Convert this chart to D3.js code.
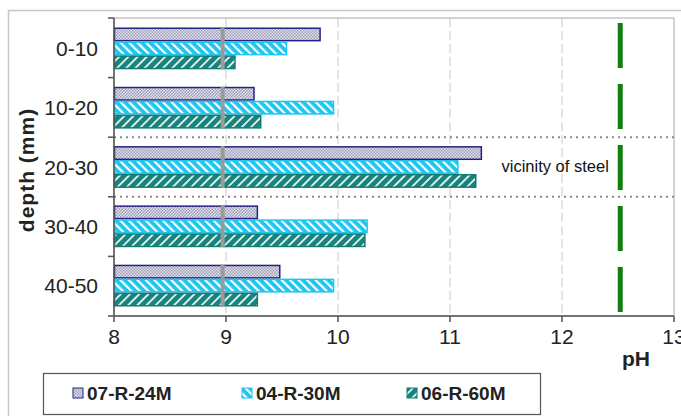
<!DOCTYPE html>
<html><head><meta charset="utf-8">
<script src="https://cdn.jsdelivr.net/npm/d3@7"></script>
<style>body{margin:0;background:#fff;}svg{display:block;font-family:"Liberation Sans",Arial,sans-serif;}</style>
</head><body>
<svg id="c" width="681" height="416"></svg>
<script>
const depths = ["0-10","10-20","20-30","30-40","40-50"];
const seriesNames = ["07-R-24M","04-R-30M","06-R-60M"];
const s07 = [9.84, 9.25, 11.28, 9.28, 9.48];
const s04 = [9.54, 9.96, 11.07, 10.26, 9.96];
const s06 = [9.08, 9.31, 11.23, 10.24, 9.28];
const xTicks = [8, 9, 10, 11, 12, 13];
const refGrey = 8.97;
const refGreen = 12.52;
const annotation = "vicinity of steel";

const svg = d3.select("#c");
const W = 681, H = 416;
const x = d3.scaleLinear().domain([8, 13]).range([114, 674]);
const y = d3.scaleBand().domain(depths).range([18, 316]).paddingInner(0.295).paddingOuter(0.16);
const yb = d3.scaleBand().domain(d3.range(depths.length)).range([18, 316]);
const ys = d3.scaleBand().domain(seriesNames).range([0, y.bandwidth()]);

// patterns
const defs = svg.append("defs");
const pc = defs.append("pattern").attr("id","p07").attr("patternUnits","userSpaceOnUse").attr("width",3).attr("height",3);
pc.append("rect").attr("width",3).attr("height",3).attr("fill","#e4e4ee");
pc.append("rect").attr("width",1.5).attr("height",1.5).attr("fill","#9c9cb8");
pc.append("rect").attr("x",1.5).attr("y",1.5).attr("width",1.5).attr("height",1.5).attr("fill","#9c9cb8");
const p4 = defs.append("pattern").attr("id","p04").attr("patternUnits","userSpaceOnUse").attr("width",6).attr("height",6).attr("patternTransform","rotate(-45)");
p4.append("rect").attr("width",6).attr("height",6).attr("fill","#1cc6f0");
p4.append("rect").attr("width",2.2).attr("height",6).attr("fill","#ffffff");
const p6 = defs.append("pattern").attr("id","p06").attr("patternUnits","userSpaceOnUse").attr("width",6.5).attr("height",6.5).attr("patternTransform","rotate(45)");
p6.append("rect").attr("width",6.5).attr("height",6.5).attr("fill","#17857d");
p6.append("rect").attr("width",1.8).attr("height",6.5).attr("fill","#e8f4f2");

const fills = {"07-R-24M":"url(#p07)","04-R-30M":"url(#p04)","06-R-60M":"url(#p06)"};
const strokes = {"07-R-24M":"#232383","04-R-30M":"#1cc6f0","06-R-60M":"#127a72"};

// outer frame
svg.append("rect").attr("x",8.5).attr("y",10.5).attr("width",W).attr("height",H)
  .attr("fill","none").attr("stroke","#c8c8c8").attr("stroke-width",1.5);

// plot frame
svg.append("rect").attr("x",x(8)).attr("y",18).attr("width",x(13)-x(8)).attr("height",298)
  .attr("fill","#fff").attr("stroke","#a8a8a8").attr("stroke-width",1);

// gridlines
svg.append("g").selectAll("line").data(xTicks.slice(1,-1)).join("line")
  .attr("x1",d=>x(d)).attr("x2",d=>x(d)).attr("y1",18).attr("y2",316)
  .attr("stroke","#c8c8c8").attr("stroke-width",1).attr("stroke-dasharray","9,4");

// dotted separators
const sepIdx = [2, 3];
svg.append("g").selectAll("line").data(sepIdx).join("line")
  .attr("x1",x(8)).attr("x2",x(13)).attr("y1",d=>yb(d)).attr("y2",d=>yb(d))
  .attr("stroke","#888").attr("stroke-width",2).attr("stroke-dasharray","2,4");

// bars
const data = [];
depths.forEach((d,i)=>{
  data.push({depth:d, s:"07-R-24M", v:s07[i]});
  data.push({depth:d, s:"04-R-30M", v:s04[i]});
  data.push({depth:d, s:"06-R-60M", v:s06[i]});
});
svg.append("g").selectAll("rect").data(data).join("rect")
  .attr("x",x(8)+0.5)
  .attr("y",d=>y(d.depth)+ys(d.s)+0.75)
  .attr("width",d=>x(d.v)-x(8)-0.5)
  .attr("height",ys.bandwidth()-1.5)
  .attr("fill",d=>fills[d.s]).attr("stroke",d=>strokes[d.s]).attr("stroke-width",1.5);

// grey reference segments
svg.append("g").selectAll("line").data(depths).join("line")
  .attr("x1",x(refGrey)).attr("x2",x(refGrey))
  .attr("y1",d=>y(d)).attr("y2",d=>y(d)+y.bandwidth())
  .attr("stroke","#9a9a9a").attr("stroke-width",4);

// green dashed line
svg.append("line").attr("x1",x(refGreen)).attr("x2",x(refGreen)).attr("y1",23).attr("y2",313)
  .attr("stroke","#0f7f0f").attr("stroke-width",5).attr("stroke-dasharray","45,16");

// annotation
svg.append("text").attr("x",x(11.46)).attr("y",y("20-30")+y.bandwidth()/2+5)
  .attr("font-size",16.5).attr("fill","#111").text(annotation);

// axes
const yAxis = svg.append("g").attr("transform",`translate(${x(8)},0)`);
yAxis.append("line").attr("x1",0).attr("x2",0).attr("y1",18).attr("y2",316).attr("stroke","#555").attr("stroke-width",1.5);
yAxis.selectAll("line.t").data(d3.range(depths.length+1)).join("line").attr("class","t")
  .attr("x1",-6).attr("x2",0)
  .attr("y1",d=>d<depths.length?yb(d):316).attr("y2",d=>d<depths.length?yb(d):316)
  .attr("stroke","#555").attr("stroke-width",1.5);
yAxis.selectAll("text").data(depths).join("text")
  .attr("x",-16).attr("y",d=>y(d)+y.bandwidth()/2+7.5)
  .attr("text-anchor","end").attr("font-size",21).attr("fill","#222").text(d=>d);

const xAxis = svg.append("g").attr("transform","translate(0,316)");
xAxis.append("line").attr("x1",x(8)).attr("x2",x(13)).attr("stroke","#555").attr("stroke-width",1.5);
xAxis.selectAll("line.t").data(xTicks).join("line").attr("class","t")
  .attr("x1",d=>x(d)).attr("x2",d=>x(d)).attr("y1",0).attr("y2",6)
  .attr("stroke","#555").attr("stroke-width",1.5);
xAxis.selectAll("text").data(xTicks).join("text")
  .attr("x",d=>x(d)).attr("y",28).attr("text-anchor","middle")
  .attr("font-size",21).attr("fill","#222").text(d=>d);

svg.append("text").attr("x",x(12.66)).attr("y",366).attr("text-anchor","middle")
  .attr("font-size",21).attr("font-weight","bold").attr("fill","#222").text("pH");
svg.append("text").attr("transform","translate(34,170) rotate(-90)").attr("text-anchor","middle")
  .attr("font-size",21).attr("letter-spacing",1).attr("font-weight","bold").attr("fill","#222").text("depth (mm)");

// legend
const lg = svg.append("g");
lg.append("rect").attr("x",43.5).attr("y",373.5).attr("width",497).attr("height",41)
  .attr("fill","#fff").attr("stroke","#555").attr("stroke-width",1.2);
const legX = [73, 242, 407];
seriesNames.forEach((s,i)=>{
  lg.append("rect").attr("x",legX[i]).attr("y",388).attr("width",10).attr("height",10)
    .attr("fill",fills[s]).attr("stroke",strokes[s]).attr("stroke-width",1);
  lg.append("text").attr("x",legX[i]+14).attr("y",400).attr("font-size",19).attr("font-weight","bold")
    .attr("fill","#222").text(s);
});
</script>
</body></html>
